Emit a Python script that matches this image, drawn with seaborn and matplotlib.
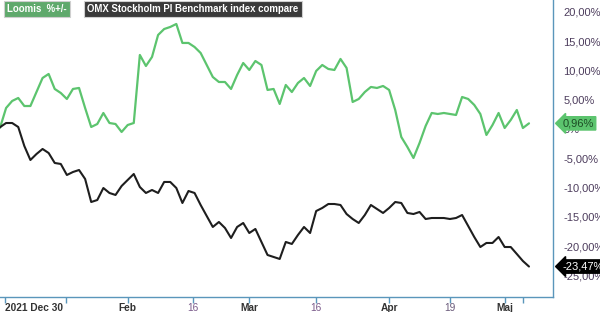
import matplotlib
matplotlib.use("Agg")
import matplotlib.pyplot as plt
import seaborn as sns
import pandas as pd
import numpy as np

# ---- data (percent change, one value per trading day) ----
loomis = [0.2, 3.58, 4.78, 5.29, 3.92, 3.92, 6.31, 8.70, 9.39, 6.83,
          6.14, 5.12, 6.83, 7.0, 3.58, 0.34, 0.85, 2.73, 1.02, 0.85,
          -0.51, 0.68, 1.02, 12.63, 10.75, 12.29, 16.04, 17.06, 17.41, 17.92,
          14.68, 14.68, 13.99, 12.97, 10.92, 8.87, 8.02, 8.02, 6.83, 9.22,
          11.26, 10.07, 11.6, 10.92, 6.66, 6.83, 4.27, 7.51, 6.31, 7.85,
          8.70, 7.34, 9.90, 10.92, 10.24, 10.07, 11.95, 10.41, 4.61, 5.12,
          6.31, 7.17, 7.0, 7.34, 6.66, 3.24, -1.37, -3.07, -4.95, -2.39,
          0.51, 2.73, 2.56, 2.73, 2.56, 2.39, 5.46, 5.12, 4.10, 2.56,
          -1.02, 0.68, 2.73, 0.17, 1.54, 3.24, 0.17, 0.96]
omx = [0.3, 1.02, 1.02, 0.34, -2.90, -5.29, -4.27, -3.41, -4.10, -5.80,
       -5.97, -7.85, -7.34, -7.00, -8.53, -12.46, -12.12, -10.07, -10.92, -11.26,
       -9.73, -8.70, -7.68, -9.90, -10.92, -10.41, -10.92, -9.04, -9.04, -10.07,
       -12.63, -10.58, -10.92, -12.97, -14.85, -16.72, -15.87, -16.89, -18.60, -16.72,
       -16.04, -17.75, -17.06, -19.28, -21.50, -21.84, -22.18, -19.28, -19.62, -18.09,
       -16.72, -17.75, -14.0, -13.48, -12.80, -12.80, -12.97, -14.51, -15.36, -16.04,
       -14.68, -12.97, -13.65, -14.33, -13.48, -12.46, -12.63, -14.33, -14.51, -14.16,
       -15.36, -15.19, -15.19, -15.19, -15.36, -15.19, -14.68, -16.55, -18.43, -20.14,
       -19.45, -19.45, -18.43, -20.14, -20.14, -21.33, -22.53, -23.47]

tick_pos = [0.8, 10.9, 21, 31.8, 41, 52, 64, 74, 83]
tick_lab = ["2021 Dec 30", "", "Feb", "16", "Mar", "16", "Apr", "19", "Maj"]
tick_bold = [True, False, True, False, True, False, True, False, True]
tick_col = ["#333333", "#333333", "#333333", "#7a5a8a", "#333333", "#7a5a8a",
            "#333333", "#6a5a7a", "#333333"]
red_tick = 86
y_ticks = [20, 15, 10, 5, 0, -5, -10, -15, -20, -25]
series_names = ["Loomis  %+/-", "OMX Stockholm PI Benchmark index compare"]

GREEN = "#5cc46e"
BLACK = "#1e1e1e"
SPINE = "#5a96bb"

sns.set_style("white")
plt.rcParams["font.family"] = ["Liberation Sans", "DejaVu Sans"]

df = pd.DataFrame({"day": np.arange(len(loomis)), "loomis": loomis, "omx": omx})

fig = plt.figure(figsize=(6.0, 3.12), dpi=100)
ax = fig.add_axes([0.0, 1 - 297 / 312, 553 / 600, 297 / 312])

sns.lineplot(data=df, x="day", y="loomis", ax=ax, color=GREEN, linewidth=1.6)
sns.lineplot(data=df, x="day", y="omx", ax=ax, color=BLACK, linewidth=1.5)

ax.set_xlim(0, 90.95)
ax.set_ylim(-28.67, 22.01)
ax.set_xlabel("")
ax.set_ylabel("")

for s in ["top", "left"]:
    ax.spines[s].set_visible(False)
for s in ["right", "bottom"]:
    ax.spines[s].set_color(SPINE)
    ax.spines[s].set_linewidth(1.0)

# x ticks
ax.set_xticks(tick_pos + [red_tick])
ax.set_xticklabels(tick_lab + [""])
ax.tick_params(axis="x", direction="out", length=4, width=1, color=SPINE, pad=0,
               labelsize=7.3, bottom=True)
for lab, b, c in zip(ax.get_xticklabels(), tick_bold + [False], tick_col + ["#333333"]):
    lab.set_fontweight("bold" if b else "normal")
    lab.set_color(c)
    lab.set_ha("left" if lab.get_text().startswith("2021") else "center")
xt = ax.xaxis.get_major_ticks()
xt[-1].tick1line.set_color("#e05050")

# y ticks on the right
ax.yaxis.tick_right()
ax.set_yticks(y_ticks)
ax.set_yticklabels([("%.2f%%" % v).replace(".", ",") if v != 0 else "0%" for v in y_ticks])
ax.tick_params(axis="y", length=0, pad=7.5, labelsize=8, labelcolor="#4d3d5d")

# legend-like boxes
fig.text(7 / 600, 1 - 9 / 312, series_names[0], color="white", fontsize=6.9,
         fontweight="bold", va="center", ha="left",
         bbox=dict(boxstyle="square,pad=0.35", fc="#5fa96c", ec="#cfcfcf", lw=0.8))
fig.text(87 / 600, 1 - 9 / 312, series_names[1], color="white", fontsize=6.9,
         fontweight="bold", va="center", ha="left",
         bbox=dict(boxstyle="square,pad=0.35", fc="#3a3a3a", ec="#cfcfcf", lw=0.8))

# end value tags
last_l = loomis[-1]
last_o = omx[-1]
ax.annotate(("%.2f%%" % last_l).replace(".", ","), xy=(1.0, last_l),
            xycoords=("axes fraction", "data"), xytext=(7, 0),
            textcoords="offset points", va="center", ha="left", fontsize=8,
            color="#1d4d25", annotation_clip=False,
            bbox=dict(boxstyle="larrow,pad=0.15", fc=GREEN, ec=GREEN))
ax.annotate(("%.2f%%" % last_o).replace(".", ","), xy=(1.0, last_o),
            xycoords=("axes fraction", "data"), xytext=(7, 0),
            textcoords="offset points", va="center", ha="left", fontsize=8,
            color="white", annotation_clip=False,
            bbox=dict(boxstyle="larrow,pad=0.15", fc="black", ec="black"))

fig.savefig("out.png", dpi=100)
